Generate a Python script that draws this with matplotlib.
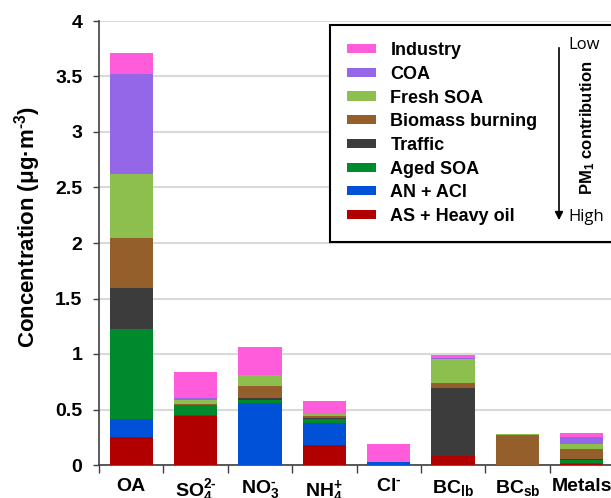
import matplotlib
matplotlib.use("Agg")
import matplotlib.pyplot as plt
import numpy as np

plt.rcParams['font.family'] = ['Liberation Sans', 'DejaVu Sans']
plt.rcParams['mathtext.fontset'] = 'custom'
plt.rcParams['mathtext.rm'] = 'Liberation Sans:bold'
plt.rcParams['mathtext.it'] = 'Liberation Sans:bold'
plt.rcParams['mathtext.bf'] = 'Liberation Sans:bold'

categories = ['OA', r'SO$_4^{2\text{-}}$', r'NO$_3^{\text{-}}$', r'NH$_4^{+}$', r'Cl$^{\text{-}}$',
              r'BC$_{lb}$', r'BC$_{sb}$', 'Metals']

# stacking order: bottom -> top
sources = ['AS + Heavy oil', 'AN + ACl', 'Aged SOA', 'Traffic',
           'Biomass burning', 'Fresh SOA', 'COA', 'Industry']
as_heavy_oil = [0.25, 0.44, 0.00, 0.18, 0.00, 0.08, 0.00, 0.010]
an_acl       = [0.16, 0.01, 0.56, 0.20, 0.03, 0.005, 0.00, 0.008]
aged_soa     = [0.815, 0.09, 0.03, 0.03, 0.00, 0.00, 0.00, 0.030]
traffic      = [0.37, 0.005, 0.01, 0.01, 0.00, 0.61, 0.00, 0.004]
biomass      = [0.45, 0.005, 0.11, 0.02, 0.00, 0.04, 0.27, 0.094]
fresh_soa    = [0.58, 0.035, 0.10, 0.02, 0.00, 0.22, 0.01, 0.040]
coa          = [0.90, 0.02, 0.00, 0.00, 0.00, 0.005, 0.00, 0.065]
industry     = [0.19, 0.23, 0.25, 0.12, 0.16, 0.03, 0.00, 0.036]
series = [as_heavy_oil, an_acl, aged_soa, traffic, biomass, fresh_soa, coa, industry]
colors = ['#b00000', '#0050d8', '#008a2e', '#3c3c3c', '#955f2c', '#8cbf4d', '#9466e8', '#ff5cdb']
ytick_labels = ['0', '0.5', '1', '1.5', '2', '2.5', '3', '3.5', '4']

W, H = 611, 498
fig = plt.figure(figsize=(W / 100, H / 100), dpi=100)
ax = fig.add_axes([99 / W, 33 / H, 515 / W, 444 / H])

x = np.arange(len(categories))
bottom = np.zeros(len(categories))
containers = []
for vals, c, name in zip(series, colors, sources):
    v = np.array(vals)
    bc = ax.bar(x, v, width=0.67, bottom=bottom, color=c, label=name, zorder=3,
                edgecolor='none')
    containers.append(bc)
    bottom += v

ax.set_xlim(-0.5, len(categories) - 0.5)
ax.set_ylim(0, 4)
ax.set_yticks(np.arange(0, 4.01, 0.5))
ax.set_yticklabels(ytick_labels, fontsize=14, fontweight='bold')
ax.set_xticks(x)
ax.set_xticklabels(categories, fontsize=14, fontweight='bold')
ax.set_xticks(np.arange(-0.5, len(categories), 1.0), minor=True)
ax.tick_params(axis='x', which='major', length=0, pad=9)
ax.tick_params(axis='x', which='minor', length=6, width=1, color='#404040')
ax.tick_params(axis='y', length=4, width=1, color='#404040', pad=8)
ax.yaxis.grid(True, color='#d9d9d9', linewidth=1.5, zorder=0)
ax.set_axisbelow(True)
for s in ['top', 'right']:
    ax.spines[s].set_visible(False)
for s in ['left', 'bottom']:
    ax.spines[s].set_color('#404040')
    ax.spines[s].set_linewidth(1.2)
ax.set_ylabel(r'Concentration (μg·m$^{\text{-}3}$)', fontsize=16, fontweight='bold')
ax.yaxis.set_label_coords(-0.108, 0.535)

handles = containers[::-1]
labels = sources[::-1]
leg = fig.legend(handles, labels, loc='upper left',
                 bbox_to_anchor=(330 / W, 0.0, 290 / W, (H - 25) / H),
                 mode='expand', prop={'weight': 'bold', 'size': 13},
                 handlelength=1.6, handleheight=0.4, handletextpad=0.8,
                 labelspacing=0.37, borderpad=0.95, borderaxespad=0.0,
                 fancybox=False, framealpha=1, edgecolor='black')
leg.get_frame().set_linewidth(1.5)
leg.set_zorder(2)

fig.add_artist(matplotlib.patches.FancyArrowPatch(
    (559 / W, (H - 45) / H), (559 / W, (H - 223) / H), transform=fig.transFigure,
    arrowstyle='-|>', mutation_scale=12, color='black', linewidth=1.2, zorder=10))
fig.text(568 / W, (H - 45) / H, 'Low', fontsize=12, family='Open Sans', va='center',
         ha='left', zorder=10)
fig.text(568 / W, (H - 217) / H, 'High', fontsize=12, family='Open Sans', va='center',
         ha='left', zorder=10)
fig.text(588 / W, (H - 128) / H, r'PM$_1$ contribution', fontsize=12, fontweight='bold',
         rotation=90, va='center', ha='center', zorder=10)

fig.savefig('out.png', dpi=100)
